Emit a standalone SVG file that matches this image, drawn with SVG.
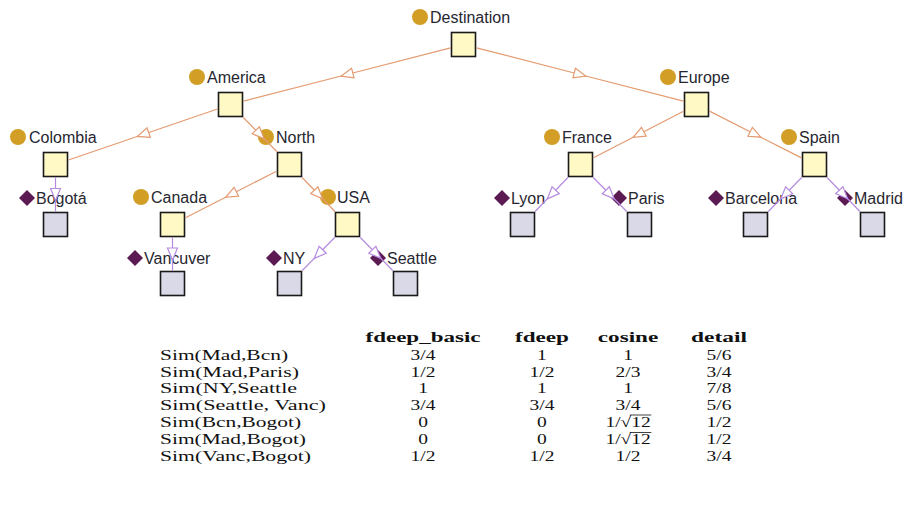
<svg xmlns="http://www.w3.org/2000/svg" width="907" height="507" viewBox="0 0 907 507">
<style>
.lbl{font-family:"Liberation Sans",Arial,sans-serif;font-size:16px;fill:#262630}
.cls{fill:#FFF9C6;stroke:#1a1a1a;stroke-width:1.6}
.ind{fill:#D9D9E8;stroke:#1a1a1a;stroke-width:1.6}
.dot{fill:#D29E26}
.dia{fill:#5B1A52}
.sub{fill:none;stroke:#E49B71;stroke-width:1.2}
.inst{fill:none;stroke:#B58BE0;stroke-width:1.2}
.tb{font-family:"Liberation Serif","Times New Roman",serif;font-size:15px;fill:#111}
.hd{font-weight:bold}
.c{text-anchor:middle}
</style>
<defs>
<marker id="ao" markerWidth="16" markerHeight="14" refX="7" refY="6" orient="auto" markerUnits="userSpaceOnUse">
<path d="M1,1 L13,6 L1,11 z" fill="#fff" stroke="#E49B71" stroke-width="1.2"/>
</marker>
<marker id="ap" markerWidth="16" markerHeight="14" refX="7" refY="6" orient="auto" markerUnits="userSpaceOnUse">
<path d="M1,1 L13,6 L1,11 z" fill="#fff" stroke="#B58BE0" stroke-width="1.2"/>
</marker>
</defs>

<g id="node-destination"><circle class="dot" cx="420" cy="17" r="8"/><text class="lbl" x="430" y="23">Destination</text><rect class="cls" x="451.5" y="32.5" width="24" height="24"/></g>
<g id="node-america"><circle class="dot" cx="197" cy="77" r="8"/><text class="lbl" x="207" y="83">America</text><rect class="cls" x="218.5" y="92.5" width="24" height="24"/></g>
<g id="node-europe"><circle class="dot" cx="668" cy="77" r="8"/><text class="lbl" x="678" y="83">Europe</text><rect class="cls" x="684.5" y="92.5" width="24" height="24"/></g>
<g id="node-colombia"><circle class="dot" cx="18" cy="137" r="8"/><text class="lbl" x="29" y="143">Colombia</text><rect class="cls" x="43.5" y="152.5" width="24" height="24"/></g>
<g id="node-north"><circle class="dot" cx="266" cy="137" r="8"/><text class="lbl" x="276" y="143">North</text><rect class="cls" x="277.5" y="152.5" width="24" height="24"/></g>
<g id="node-france"><circle class="dot" cx="552" cy="137" r="8"/><text class="lbl" x="562" y="143">France</text><rect class="cls" x="568.5" y="152.5" width="24" height="24"/></g>
<g id="node-spain"><circle class="dot" cx="789" cy="137" r="8"/><text class="lbl" x="799" y="143">Spain</text><rect class="cls" x="802.5" y="152.5" width="24" height="24"/></g>
<g id="node-canada"><circle class="dot" cx="141" cy="197" r="8"/><text class="lbl" x="151" y="203">Canada</text><rect class="cls" x="160.5" y="212.5" width="24" height="24"/></g>
<g id="node-usa"><circle class="dot" cx="328" cy="197" r="8"/><text class="lbl" x="337" y="203">USA</text><rect class="cls" x="335.5" y="212.5" width="24" height="24"/></g>
<g id="node-bogota"><polygon class="dia" points="19,198 27,190 35,198 27,206"/><text class="lbl" x="36" y="204">Bogotá</text><rect class="ind" x="43.5" y="212.5" width="24" height="24"/></g>
<g id="node-lyon"><polygon class="dia" points="494,198 502,190 510,198 502,206"/><text class="lbl" x="511" y="204">Lyon</text><rect class="ind" x="510.5" y="212.5" width="24" height="24"/></g>
<g id="node-paris"><polygon class="dia" points="611,198 619,190 627,198 619,206"/><text class="lbl" x="628" y="204">Paris</text><rect class="ind" x="627.5" y="212.5" width="24" height="24"/></g>
<g id="node-barcelona"><polygon class="dia" points="708,198 716,190 724,198 716,206"/><text class="lbl" x="725" y="204">Barcelona</text><rect class="ind" x="743.5" y="212.5" width="24" height="24"/></g>
<g id="node-madrid"><polygon class="dia" points="837,198 845,190 853,198 845,206"/><text class="lbl" x="854" y="204">Madrid</text><rect class="ind" x="860.5" y="212.5" width="24" height="24"/></g>
<g id="node-vancuver"><polygon class="dia" points="127,258 135,250 143,258 135,266"/><text class="lbl" x="144" y="264">Vancuver</text><rect class="ind" x="160.5" y="271.5" width="24" height="24"/></g>
<g id="node-ny"><polygon class="dia" points="266,258 274,250 282,258 274,266"/><text class="lbl" x="283" y="264">NY</text><rect class="ind" x="277.5" y="271.5" width="24" height="24"/></g>
<g id="node-seattle"><polygon class="dia" points="370,258 378,250 386,258 378,266"/><text class="lbl" x="387" y="264">Seattle</text><rect class="ind" x="393.5" y="271.5" width="24" height="24"/></g>

<g id="connectors">
<path class="sub" marker-mid="url(#ao)" d="M450.5,47.85 L347,74.5 L243.5,101.15"/>
<path class="sub" marker-mid="url(#ao)" d="M476.5,47.85 L580,74.5 L683.5,101.15"/>
<path class="sub" marker-mid="url(#ao)" d="M217.5,108.96 L143,134.5 L68.5,160.04"/>
<path class="sub" marker-mid="url(#ao)" d="M243.28,117.5 L260,134.5 L276.72,151.5"/>
<path class="sub" marker-mid="url(#ao)" d="M683.5,111.22 L638.5,134.5 L593.5,157.78"/>
<path class="sub" marker-mid="url(#ao)" d="M709.5,111.11 L755.5,134.5 L801.5,157.89"/>
<path class="sub" marker-mid="url(#ao)" d="M276.5,171.17 L231,194.5 L185.5,217.83"/>
<path class="sub" marker-mid="url(#ao)" d="M302.07,177.5 L318.5,194.5 L334.93,211.5"/>
<path class="inst" marker-mid="url(#ap)" d="M55.5,177.5 L55.5,194.5 L55.5,211.5"/>
<path class="inst" marker-mid="url(#ap)" d="M172.5,237.5 L172.5,254 L172.5,270.5"/>
<path class="inst" marker-mid="url(#ap)" d="M334.72,237.5 L318.5,254 L302.28,270.5"/>
<path class="inst" marker-mid="url(#ap)" d="M360.28,237.5 L376.5,254 L392.72,270.5"/>
<path class="inst" marker-mid="url(#ap)" d="M567.93,177.5 L551.5,194.5 L535.07,211.5"/>
<path class="inst" marker-mid="url(#ap)" d="M593.28,177.5 L610,194.5 L626.72,211.5"/>
<path class="inst" marker-mid="url(#ap)" d="M801.72,177.5 L785,194.5 L768.28,211.5"/>
<path class="inst" marker-mid="url(#ap)" d="M827.07,177.5 L843.5,194.5 L859.93,211.5"/>
</g>

<g id="table" class="tb" transform="scale(1.3,1)">
<text class="hd c" x="325.4" y="342" textLength="88.5" lengthAdjust="spacingAndGlyphs">fdeep_basic</text>
<text class="hd c" x="416.9" y="342" textLength="41.5" lengthAdjust="spacingAndGlyphs">fdeep</text>
<text class="hd c" x="483.1" y="342" textLength="46.5" lengthAdjust="spacingAndGlyphs">cosine</text>
<text class="hd c" x="553.1" y="342" textLength="43.1" lengthAdjust="spacingAndGlyphs">detail</text>

<text x="123.1" y="360" textLength="98.5" lengthAdjust="spacingAndGlyphs">Sim(Mad,Bcn)</text>
<text x="123.1" y="377" textLength="106.9" lengthAdjust="spacingAndGlyphs">Sim(Mad,Paris)</text>
<text x="123.1" y="393.5" textLength="105.4" lengthAdjust="spacingAndGlyphs">Sim(NY,Seattle</text>
<text x="123.1" y="410" textLength="127.7" lengthAdjust="spacingAndGlyphs">Sim(Seattle, Vanc)</text>
<text x="123.1" y="427" textLength="108.5" lengthAdjust="spacingAndGlyphs">Sim(Bcn,Bogot)</text>
<text x="123.1" y="444.5" textLength="112.3" lengthAdjust="spacingAndGlyphs">Sim(Mad,Bogot)</text>
<text x="123.1" y="461" textLength="116.2" lengthAdjust="spacingAndGlyphs">Sim(Vanc,Bogot)</text>

<g class="c">
<text x="325.4" y="360">3/4</text><text x="416.9" y="360">1</text><text x="483.1" y="360">1</text><text x="553.1" y="360">5/6</text>
<text x="325.4" y="377">1/2</text><text x="416.9" y="377">1/2</text><text x="483.1" y="377">2/3</text><text x="553.1" y="377">3/4</text>
<text x="325.4" y="393.5">1</text><text x="416.9" y="393.5">1</text><text x="483.1" y="393.5">1</text><text x="553.1" y="393.5">7/8</text>
<text x="325.4" y="410">3/4</text><text x="416.9" y="410">3/4</text><text x="483.1" y="410">3/4</text><text x="553.1" y="410">5/6</text>
<text x="325.4" y="427">0</text><text x="416.9" y="427">0</text><text x="553.1" y="427">1/2</text>
<text x="325.4" y="444.5">0</text><text x="416.9" y="444.5">0</text><text x="553.1" y="444.5">1/2</text>
<text x="325.4" y="461">1/2</text><text x="416.9" y="461">1/2</text><text x="483.1" y="461">1/2</text><text x="553.1" y="461">3/4</text>
</g>
<text x="465.7" y="427">1/√12</text>
<line x1="484.5" y1="415" x2="501" y2="415" stroke="#111" stroke-width="0.8"/>
<text x="465.7" y="444.5">1/√12</text>
<line x1="484.5" y1="432.5" x2="501" y2="432.5" stroke="#111" stroke-width="0.8"/>
</g>
</svg>
